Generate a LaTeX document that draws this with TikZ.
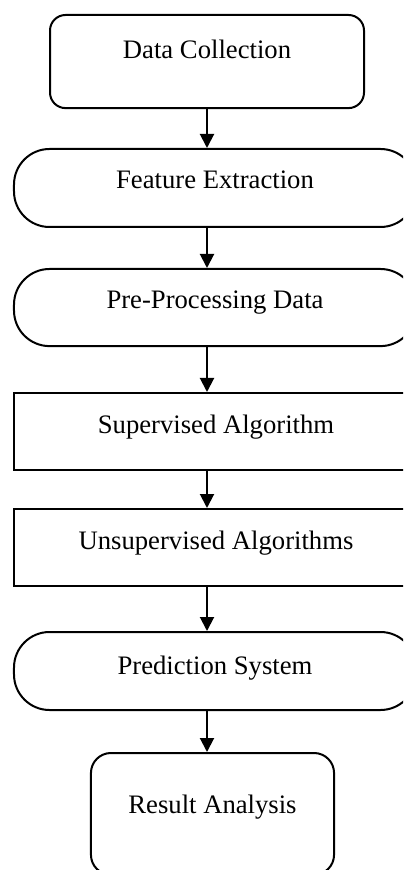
\documentclass[tikz,border=0pt]{standalone}
\usepackage{fontspec}
\setmainfont{Liberation Serif}
\usetikzlibrary{arrows.meta}

\begin{document}
\begin{tikzpicture}[x=0.45pt, y=-0.45pt,
	every node/.style={font=\fontsize{12}{14}\selectfont, inner xsep=0pt, inner ysep=0pt, line width=0.9pt},
	softbox/.style={draw, rounded corners=7pt, minimum width=141.3pt},
	pill/.style={draw, rounded corners=16pt, minimum width=180.9pt},
	plainbox/.style={draw, minimum width=181.8pt},
	flowarrow/.style={line width=0.9pt, -{Triangle[width=6.3pt,length=6.3pt]}}]

	\useasboundingbox (0,0) rectangle (403,870);
	\clip (0,0) rectangle (403,870);

	% steps of the flow
	\node[softbox, anchor=north, text height=19.4pt, text depth=22.5pt] (dc) at (207,14) {Data Collection};
	\node[pill, anchor=north, text height=18pt, text depth=17.1pt] (fe) at (215,148) {Feature Extraction};
	\node[pill, anchor=north, text height=17.6pt, text depth=17.1pt] (pp) at (215,268) {Pre-Processing Data};
	\node[plainbox, anchor=north, text height=18.4pt, text depth=16.2pt] (sa) at (216,392) {Supervised Algorithm};
	\node[plainbox, anchor=north, text height=18.4pt, text depth=16.2pt] (ua) at (216,508) {Unsupervised Algorithms};
	\node[pill, anchor=north, text height=18.9pt, text depth=16.2pt] (ps) at (215,631) {Prediction System};
	\node[softbox, rounded corners=9pt, minimum width=109.4pt, anchor=north, text height=27.4pt, text depth=27.4pt] (ra) at (212.5,752) {Result Analysis};

	% arrows
	\draw[flowarrow] (dc.south) -- (fe.north -| dc.south);
	\draw[flowarrow] (fe.south -| dc.south) -- (pp.north -| dc.south);
	\draw[flowarrow] (pp.south -| dc.south) -- (sa.north -| dc.south);
	\draw[flowarrow] (sa.south -| dc.south) -- (ua.north -| dc.south);
	\draw[flowarrow] (ua.south -| dc.south) -- (ps.north -| dc.south);
	\draw[flowarrow] (ps.south -| dc.south) -- (ra.north -| dc.south);
\end{tikzpicture}
\end{document}
